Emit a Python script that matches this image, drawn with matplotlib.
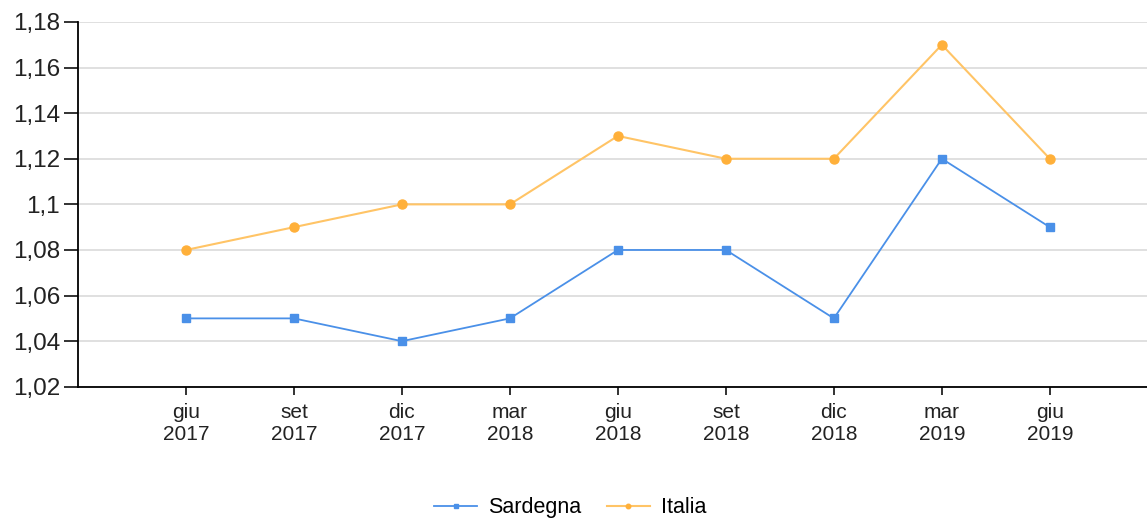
import matplotlib.pyplot as plt

# dati
periodi = ['giu\n2017', 'set\n2017', 'dic\n2017', 'mar\n2018', 'giu\n2018',
           'set\n2018', 'dic\n2018', 'mar\n2019', 'giu\n2019']
sardegna = [1.05, 1.05, 1.04, 1.05, 1.08, 1.08, 1.05, 1.12, 1.09]
italia = [1.08, 1.09, 1.10, 1.10, 1.13, 1.12, 1.12, 1.17, 1.12]
y_ticks = [1.02, 1.04, 1.06, 1.08, 1.10, 1.12, 1.14, 1.16, 1.18]
y_labels = ['1,02', '1,04', '1,06', '1,08', '1,1', '1,12', '1,14', '1,16', '1,18']

plt.rcParams['font.family'] = ['Liberation Sans', 'DejaVu Sans']

fig = plt.figure(figsize=(11.47, 5.22), dpi=100)
ax = fig.add_axes([0.068, 0.259, 0.932, 0.699])

x = list(range(len(periodi)))
ax.plot(x, sardegna, color='#4a90e8', lw=1.3, marker='s', ms=6, label='Sardegna', zorder=3)
ax.plot(x, italia, color='#ffc466', lw=1.5, marker='o', ms=6.5, mfc='#ffb03a',
        mec='#ffb03a', label='Italia', zorder=3)

ax.set_xlim(-1, 8.9)
ax.set_ylim(1.02, 1.18)
ax.set_yticks(y_ticks)
ax.set_yticklabels(y_labels, fontsize=17.5)
ax.set_xticks(x)
ax.set_xticklabels(periodi, fontsize=15, linespacing=1.2)
ax.yaxis.grid(True, color='#dddddd', lw=1.3)
ax.set_axisbelow(True)
for s in ['top', 'right']:
    ax.spines[s].set_visible(False)
ax.spines['left'].set_linewidth(1.3)
ax.spines['bottom'].set_linewidth(1.3)
ax.tick_params(axis='both', width=1.3, colors='#222222')
ax.tick_params(axis='y', length=10, pad=3)
ax.tick_params(axis='x', length=6, pad=6)

fig.legend(loc='center', bbox_to_anchor=(0.497, 0.027), ncol=2, frameon=False,
           fontsize=15.5, handlelength=2.0, handletextpad=0.5, markerscale=0.5,
           columnspacing=1.2)

fig.savefig('out.png', dpi=100)
